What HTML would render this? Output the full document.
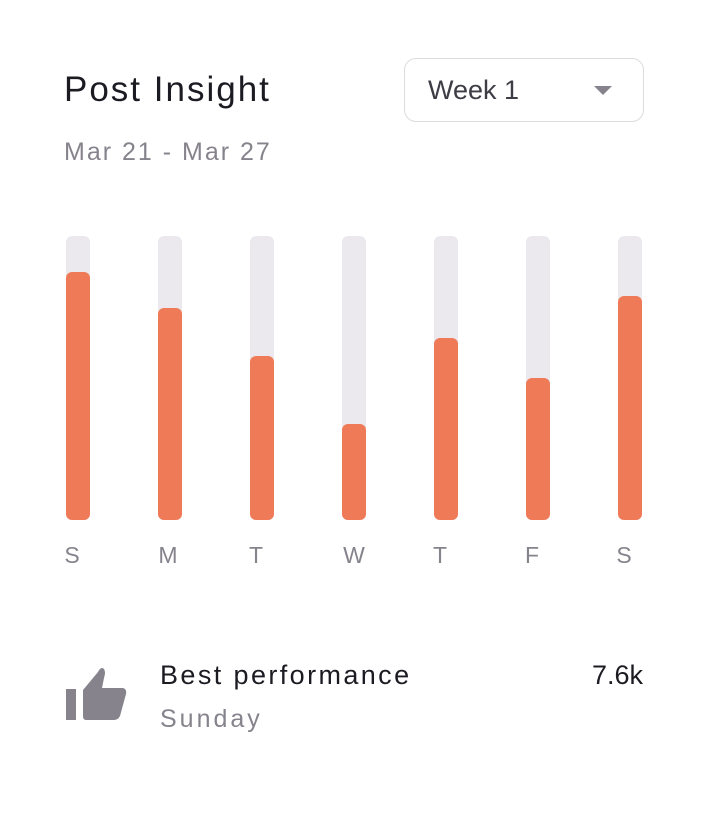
<!DOCTYPE html>
<html><head><meta charset="utf-8"><style>
body{margin:0;width:708px;height:822px;background:#fff;font-family:"Liberation Sans",sans-serif;position:relative;overflow:hidden}
.a{position:absolute;white-space:nowrap}
.track{position:absolute;top:236px;width:24px;height:284px;background:#ebe9ee;border-radius:6px}
.fill{position:absolute;width:24px;background:#ef7a58;border-radius:6px}
.lbl{position:absolute;top:542px;width:40px;text-align:center;font-size:23px;color:#86838c}
</style></head><body>
<div class="a" style="left:64px;top:70px;font-size:35px;color:#1c1b22;letter-spacing:2px">Post Insight</div>
<div class="a" style="left:64px;top:138px;font-size:25px;color:#86838c;letter-spacing:2px">Mar 21 - Mar 27</div>
<div class="a" style="left:404px;top:58px;width:238px;height:62px;border:1px solid #dcdbe0;border-radius:12px"></div>
<div class="a" style="left:428px;top:75px;font-size:27px;color:#3e3c44">Week 1</div>
<div class="a" style="left:594px;top:86px;width:0;height:0;border-left:9px solid transparent;border-right:9px solid transparent;border-top:9px solid #86838c"></div>

<div class="track" style="left:66px"></div><div class="fill" style="left:66px;top:272px;height:248px"></div>
<div class="track" style="left:158px"></div><div class="fill" style="left:158px;top:308px;height:212px"></div>
<div class="track" style="left:250px"></div><div class="fill" style="left:250px;top:356px;height:164px"></div>
<div class="track" style="left:342px"></div><div class="fill" style="left:342px;top:424px;height:96px"></div>
<div class="track" style="left:434px"></div><div class="fill" style="left:434px;top:338px;height:182px"></div>
<div class="track" style="left:526px"></div><div class="fill" style="left:526px;top:378px;height:142px"></div>
<div class="track" style="left:618px"></div><div class="fill" style="left:618px;top:296px;height:224px"></div>

<div class="lbl" style="left:52px">S</div>
<div class="lbl" style="left:148px">M</div>
<div class="lbl" style="left:236px">T</div>
<div class="lbl" style="left:334px">W</div>
<div class="lbl" style="left:420px">T</div>
<div class="lbl" style="left:512px">F</div>
<div class="lbl" style="left:604px">S</div>

<svg class="a" style="left:66px;top:666px" width="62" height="56" viewBox="0 0 62 56">
<rect x="0" y="23" width="10" height="31" fill="#86838c"/>
<path d="M17 24 L32 6 Q35 0 38 3 Q40 6 38 12 L36 22 L57 22 Q61 23 60 28 L54 50 Q52 54 48 54 L20 54 Q17 54 17 50 Z" fill="#86838c"/>
</svg>
<div class="a" style="left:160px;top:660px;font-size:27px;color:#1c1b22;letter-spacing:2.4px">Best performance</div>
<div class="a" style="left:160px;top:705px;font-size:25px;color:#86838c;letter-spacing:3px">Sunday</div>
<div class="a" style="left:560px;top:660px;width:83px;text-align:right;font-size:27px;color:#1c1b22">7.6k</div>
</body></html>
